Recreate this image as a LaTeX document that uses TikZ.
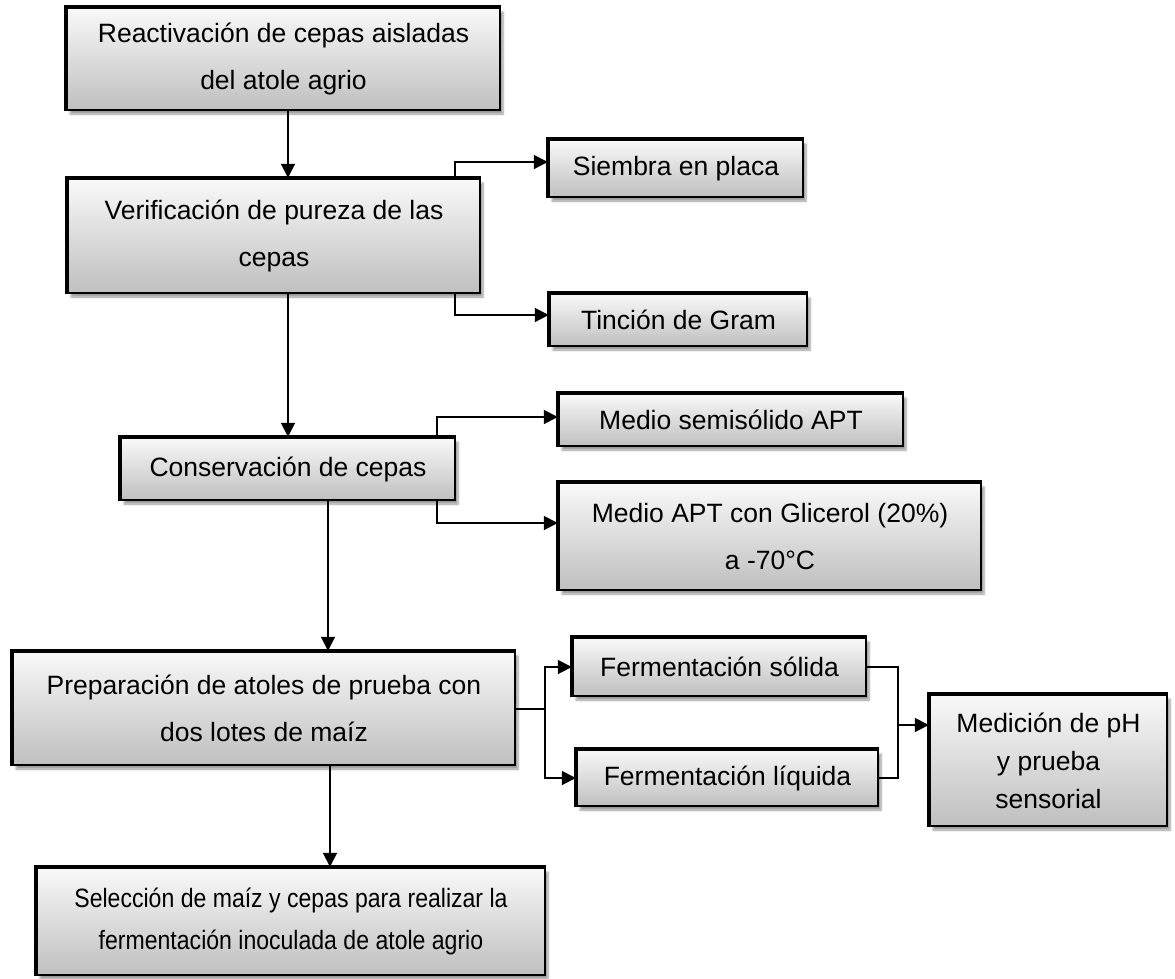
\documentclass[tikz,border=0pt]{standalone}
\usepackage{fontspec}
\setmainfont{Liberation Sans}
\newfontfamily\narrowfont{Liberation Sans}[FakeStretch=0.87]
\usetikzlibrary{arrows.meta,shadows.blur}

\tikzset{
    box node/.style={rectangle,draw=black,line width=2.5,inner sep=0,align=center,
        top color=gray!5,bottom color=gray!50,
        blur shadow={shadow xshift=3pt,shadow yshift=-4pt,shadow blur steps=6},
        font=\fontsize{26.5}{47}\selectfont},
    link/.style={line width=2},
    flow/.style={line width=2,-{Triangle[length=14,width=14]}}
    }

\begin{document}
\begin{tikzpicture}[x=1pt,y=-1pt]
                \useasboundingbox (0,0) rectangle (1175,978);
                % main column
                \node(reac)[box node, minimum width=433, minimum height=102] at (283.5,59) {Reactivación de cepas aisladas\\del atole agrio};
                \node(veri)[box node, minimum width=412, minimum height=114] at (274,236) {Verificación de pureza de las\\cepas};
                \node(cons)[box node, minimum width=334, minimum height=62] at (288,469) {Conservación de cepas};
                \node(prep)[box node, minimum width=502, minimum height=113] at (264,708.5) {Preparación de atoles de prueba con\\dos lotes de maíz};
                \node(sele)[box node, minimum width=508, minimum height=107, font=\narrowfont\fontsize{26.5}{42}\selectfont] at (291,921.5) {Selección de maíz y cepas para realizar la\\fermentación inoculada de atole agrio};
                % side boxes
                \node(siem)[box node, minimum width=254, minimum height=57] at (676,168.5) {Siembra en placa};
                \node(tinc)[box node, minimum width=257, minimum height=52] at (678.5,320) {Tinción de Gram};
                \node(semi)[box node, minimum width=344, minimum height=52] at (731,420) {Medio semisólido APT};
                \node(glic)[box node, minimum width=422, minimum height=107] at (770,536.5) {Medio APT con Glicerol (20\%)\\a -70°C};
                \node(fsol)[box node, minimum width=293, minimum height=58] at (719.5,667) {Fermentación sólida};
                \node(fliq)[box node, minimum width=301, minimum height=56] at (727.5,778) {Fermentación líquida};
                \node(medi)[box node, minimum width=237, minimum height=131, font=\fontsize{26.5}{38}\selectfont] at (1048.5,760.5) {Medición de pH\\y prueba\\sensorial};
                % heavier top and left edges
                \foreach \n in {reac,veri,cons,prep,sele,siem,tinc,semi,glic,fsol,fliq,medi}
                    \draw[line width=4.5] (\n.south west) |- (\n.north east);
                % connectors
                \coordinate (xa) at (288,0);
                \coordinate (xb) at (328,0);
                \coordinate (xc) at (330,0);
                \coordinate (xv) at (455,0);
                \coordinate (xk) at (437,0);
                \coordinate (pj) at (545,715);
                \coordinate (mj) at (898,725);
                \draw[flow] (reac.south -| xa) -- (veri.north -| xa);
                \draw[flow] (veri.south -| xa) -- (cons.north -| xa);
                \draw[flow] (cons.south -| xb) -- (prep.north -| xb);
                \draw[flow] (prep.south -| xc) -- (sele.north -| xc);
                \draw[flow] (veri.north -| xv) |- ([yshift=6.5]siem.west);
                \draw[flow] (veri.south -| xv) |- ([yshift=5]tinc.west);
                \draw[flow] (cons.north -| xk) |- ([yshift=3]semi.west);
                \draw[flow] (cons.south -| xk) |- ([yshift=13.5]glic.west);
                \draw[link] (prep.east) -- (prep.east -| pj);
                \draw[flow] (pj) |- (fsol.west);
                \draw[flow] (pj) |- (fliq.west);
                \draw[link] (fsol.east) -| (mj) |- (fliq.east);
                \draw[flow] (mj) -- (mj -| medi.west);
            \end{tikzpicture}
\end{document}
